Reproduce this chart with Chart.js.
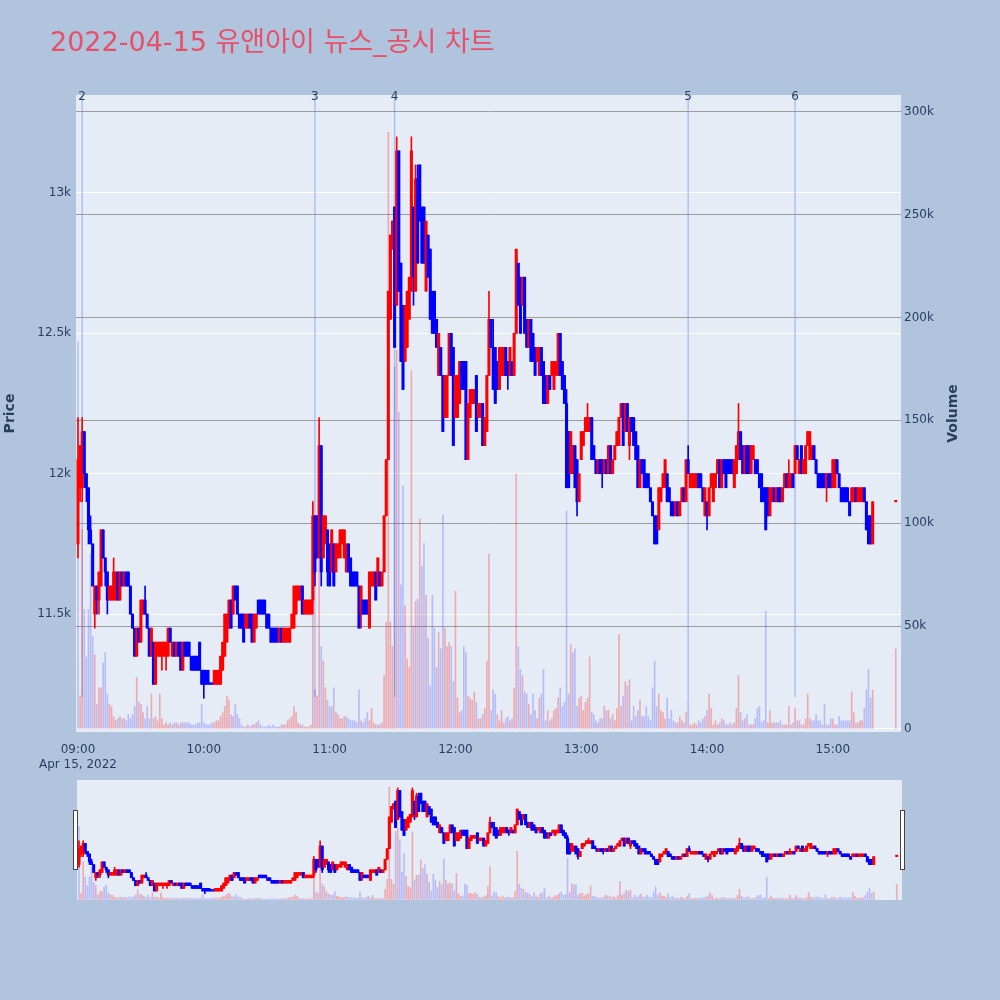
<!DOCTYPE html>
<html>
<head>
<meta charset="utf-8">
<script src="https://cdn.jsdelivr.net/npm/chart.js"></script>
<style>
  html, body { margin: 0; padding: 0; background: #b0c4de; }
  #wrap { position: relative; width: 1000px; height: 1000px; }
  #main { position: absolute; left: 0; top: 0; }
  #slider { position: absolute; left: 0; top: 770px; }
</style>
</head>
<body>
<div id="wrap">
  <canvas id="main" width="1000" height="1000"></canvas>
  <canvas id="slider" width="1000" height="140"></canvas>
</div>
<script>
const chartTitle = "2022-04-15 유앤아이 뉴스_공시 차트";
const dateLabel = "Apr 15, 2022";
const closeMinute = 390; // 15:30 closing auction, minutes after 09:00

// one-minute candles from 09:00 to 15:19, then the 15:30 close
const open = [
  11750,11950,11950,12150,12000,11950,11800,11750,11500,11600,
  11550,11600,11800,11700,11650,11550,11550,11550,11550,11650,
  11550,11650,11600,11650,11650,11600,11500,11450,11350,11450,
  11400,11500,11550,11500,11450,11350,11400,11250,11350,11350,
  11350,11350,11350,11350,11450,11350,11400,11350,11400,11400,
  11300,11400,11400,11400,11350,11350,11350,11350,11400,11300,
  11300,11300,11300,11250,11250,11250,11250,11250,11250,11300,
  11350,11400,11450,11550,11500,11600,11600,11500,11500,11500,
  11450,11450,11500,11500,11400,11450,11550,11550,11550,11550,
  11500,11500,11450,11450,11450,11450,11400,11450,11400,11400,
  11400,11400,11450,11450,11500,11550,11550,11600,11500,11500,
  11500,11500,11550,11850,11850,11700,12100,11700,11750,11800,
  11750,11650,11750,11650,11700,11700,11750,11700,11650,11750,
  11700,11650,11650,11650,11600,11500,11550,11550,11550,11450,
  11600,11600,11650,11600,11650,11600,11650,11850,12050,12550,
  12800,12950,12600,13150,12750,12600,12400,12450,12550,12650,
  12950,12650,13050,13100,12950,12950,12650,12850,12800,12650,
  12650,12550,12350,12450,12350,12200,12200,12350,12500,12450,
  12200,12200,12250,12400,12400,12400,12050,12200,12250,12250,
  12350,12200,12200,12250,12100,12150,12350,12550,12450,12450,
  12400,12300,12350,12350,12450,12400,12350,12400,12350,12500,
  12750,12700,12600,12700,12550,12450,12550,12500,12450,12400,
  12350,12450,12400,12350,12250,12350,12350,12300,12350,12350,
  12500,12400,12350,12250,12150,12000,12000,12100,12050,11900,
  12050,12100,12150,12150,12150,12200,12100,12050,12000,12050,
  12050,12000,12050,12000,12100,12000,12050,12100,12100,12200,
  12250,12150,12250,12100,12200,12200,12150,12100,11950,12050,
  12050,12000,12000,11950,11900,11850,11850,11800,11900,11950,
  11950,12000,11950,11900,11900,11850,11900,11850,11900,11950,
  11900,12050,11950,11950,11950,11950,12000,12000,11950,11850,
  11900,11850,11950,11900,11950,12000,12050,11950,12050,12050,
  12050,12050,12050,11950,12000,12050,12150,12100,12000,12100,
  12100,12000,12050,12050,12050,12000,12000,11950,11950,11950,
  11850,11900,11950,11900,11950,11950,11900,11950,12000,11950,
  11950,12000,12000,12100,12000,12100,12000,12000,12100,12050,
  12050,12100,12050,12000,12000,12000,12000,11950,12000,12000,
  11950,11950,12050,12000,11950,11950,11950,11950,11900,11900,
  11900,11950,11900,11900,11900,11950,11900,11850,11850,11750,
  11900
];
const high = [
  12200,12100,12200,12150,12000,11950,11850,11750,11600,11600,
  11650,11800,11800,11700,11650,11600,11600,11700,11650,11650,
  11650,11650,11650,11650,11650,11600,11500,11450,11450,11450,
  11550,11550,11600,11500,11450,11450,11400,11400,11400,11400,
  11400,11400,11400,11450,11450,11400,11400,11400,11400,11400,
  11400,11400,11400,11400,11350,11350,11350,11350,11400,11300,
  11300,11300,11300,11250,11250,11300,11300,11300,11350,11400,
  11500,11500,11550,11550,11600,11600,11600,11500,11500,11500,
  11500,11500,11500,11500,11500,11500,11550,11550,11550,11550,
  11500,11500,11450,11450,11450,11450,11450,11450,11450,11450,
  11450,11450,11500,11600,11600,11600,11600,11600,11550,11550,
  11550,11550,11900,11850,11850,12200,12100,11850,11850,11800,
  11750,11800,11750,11750,11750,11800,11800,11800,11750,11750,
  11700,11650,11650,11650,11600,11600,11550,11550,11550,11650,
  11650,11650,11650,11700,11650,11650,11850,12050,12650,12850,
  12900,12950,13200,13150,12750,12600,12600,12650,12700,13200,
  12950,13100,13100,13100,12950,12950,12900,12850,12800,12650,
  12650,12550,12500,12450,12350,12350,12350,12500,12500,12450,
  12350,12350,12400,12400,12400,12400,12250,12300,12300,12300,
  12350,12250,12250,12250,12200,12350,12650,12550,12550,12450,
  12400,12450,12450,12450,12450,12400,12450,12400,12500,12800,
  12750,12700,12700,12700,12550,12550,12550,12500,12450,12450,
  12450,12450,12400,12350,12350,12350,12400,12400,12400,12500,
  12500,12400,12350,12300,12150,12150,12100,12100,12050,12000,
  12150,12150,12200,12250,12200,12200,12100,12050,12050,12050,
  12050,12050,12050,12100,12100,12050,12100,12150,12200,12250,
  12250,12250,12250,12200,12200,12200,12150,12100,12050,12050,
  12050,12000,12000,11950,11900,11850,11850,11950,11950,12000,
  12050,12000,11950,11900,11900,11900,11900,11900,11950,11950,
  12050,12100,12000,12000,12000,12000,12000,12000,11950,11950,
  11900,11950,12000,12000,12000,12050,12050,12050,12050,12050,
  12050,12050,12050,12050,12100,12250,12150,12100,12100,12100,
  12100,12100,12100,12050,12050,12000,12000,11950,11950,11950,
  11950,11950,11950,11950,11950,11950,11950,12000,12000,12050,
  12000,12000,12100,12100,12050,12100,12050,12100,12150,12150,
  12100,12100,12050,12000,12000,12000,12000,12000,12000,12000,
  12050,12050,12050,12000,11950,11950,11950,11950,11900,11950,
  11950,11950,11950,11950,11950,11950,11900,11850,11850,11900,
  11900
];
const low = [
  11700,11900,11900,11950,11900,11750,11750,11600,11450,11500,
  11500,11600,11700,11600,11500,11550,11550,11550,11550,11550,
  11550,11600,11600,11600,11600,11500,11450,11350,11350,11400,
  11400,11500,11500,11450,11350,11350,11250,11250,11350,11350,
  11300,11350,11300,11350,11400,11350,11350,11350,11350,11300,
  11300,11350,11350,11350,11300,11300,11300,11300,11300,11250,
  11200,11250,11250,11250,11250,11250,11250,11250,11250,11300,
  11350,11400,11450,11450,11500,11550,11500,11450,11450,11400,
  11450,11450,11450,11400,11400,11450,11500,11500,11500,11500,
  11450,11450,11400,11400,11400,11400,11400,11400,11400,11400,
  11400,11400,11450,11450,11500,11550,11550,11500,11500,11500,
  11500,11500,11500,11600,11700,11700,11600,11700,11750,11600,
  11600,11650,11600,11650,11700,11700,11750,11700,11650,11650,
  11600,11600,11600,11600,11450,11450,11500,11500,11500,11450,
  11600,11600,11550,11600,11600,11600,11650,11850,12050,12550,
  12800,12450,12600,12650,12400,12300,12400,12450,12550,12650,
  12600,12650,12750,12900,12750,12750,12650,12700,12550,12500,
  12500,12450,12350,12350,12150,12200,12200,12350,12350,12100,
  12200,12200,12250,12300,12300,12050,12050,12200,12250,12250,
  12150,12200,12200,12100,12100,12150,12350,12450,12300,12250,
  12300,12300,12350,12350,12350,12300,12350,12350,12350,12500,
  12600,12500,12600,12500,12450,12450,12400,12400,12350,12400,
  12350,12350,12250,12250,12250,12300,12350,12300,12350,12350,
  12350,12300,12250,11950,11950,12000,12000,11950,11850,11900,
  12050,12100,12150,12150,12150,12050,12050,12000,12000,12000,
  11950,12000,12000,12000,12000,12000,12050,12100,12100,12200,
  12100,12150,12150,12050,12150,12100,12050,11950,11950,12000,
  11950,11950,11950,11900,11850,11750,11750,11800,11900,11950,
  11950,11900,11900,11850,11850,11850,11850,11850,11900,11900,
  11900,12000,11950,11950,11950,11950,11950,11950,11900,11850,
  11800,11850,11950,11900,11950,12000,11950,11950,12000,11950,
  12000,12000,12000,11950,12000,12050,12050,12000,12000,12000,
  12000,12000,12050,12000,12000,11950,11900,11900,11800,11850,
  11850,11900,11900,11900,11900,11900,11900,11950,11950,11950,
  11950,11950,12000,12050,12000,12000,12000,12000,12100,12050,
  12050,12050,12000,11950,11950,11950,11950,11900,11950,11950,
  11950,11950,12000,11950,11900,11900,11900,11900,11850,11900,
  11900,11900,11900,11900,11900,11900,11800,11750,11750,11750,
  11900
];
const close = [
  12050,12100,12150,12000,11950,11800,11750,11600,11600,11550,
  11650,11800,11700,11650,11550,11600,11600,11650,11650,11550,
  11650,11600,11650,11600,11600,11500,11450,11350,11450,11400,
  11550,11550,11500,11450,11350,11450,11250,11400,11400,11400,
  11400,11400,11400,11450,11400,11400,11350,11400,11350,11300,
  11400,11350,11350,11350,11300,11300,11300,11300,11300,11250,
  11250,11250,11250,11250,11250,11300,11300,11300,11350,11400,
  11500,11500,11550,11450,11600,11550,11500,11450,11450,11400,
  11500,11500,11450,11400,11500,11500,11500,11500,11500,11500,
  11450,11450,11400,11400,11400,11400,11450,11400,11450,11450,
  11450,11450,11500,11600,11600,11600,11600,11500,11550,11550,
  11550,11550,11850,11650,11700,12100,11650,11850,11850,11650,
  11600,11800,11600,11750,11750,11800,11800,11800,11750,11650,
  11600,11600,11600,11600,11450,11600,11500,11500,11500,11650,
  11650,11650,11550,11700,11600,11650,11850,12050,12650,12850,
  12900,12450,13150,12650,12400,12300,12600,12650,12700,13150,
  12700,13050,12750,12900,12750,12750,12900,12700,12550,12500,
  12500,12450,12500,12350,12150,12350,12350,12500,12350,12100,
  12350,12350,12400,12300,12300,12050,12250,12300,12300,12300,
  12150,12250,12250,12100,12200,12350,12550,12450,12300,12250,
  12300,12450,12450,12450,12350,12350,12450,12350,12500,12800,
  12600,12500,12700,12500,12450,12550,12400,12400,12350,12450,
  12450,12350,12250,12250,12350,12300,12400,12400,12400,12500,
  12350,12300,12250,11950,11950,12150,12100,11950,11900,12000,
  12150,12150,12200,12200,12200,12050,12050,12000,12050,12000,
  12000,12050,12000,12100,12000,12050,12100,12150,12200,12250,
  12100,12250,12150,12200,12150,12100,12050,11950,12050,12000,
  11950,11950,11950,11900,11850,11750,11750,11950,11950,12000,
  12050,11900,11900,11850,11850,11900,11850,11900,11950,11900,
  12050,12000,12000,12000,12000,12000,11950,11950,11900,11950,
  11850,11950,12000,12000,12000,12050,11950,12050,12000,11950,
  12000,12000,12000,12050,12100,12150,12050,12000,12100,12000,
  12000,12100,12100,12000,12000,11950,11900,11900,11800,11850,
  11950,11950,11900,11950,11900,11900,11950,12000,11950,12000,
  12000,11950,12100,12050,12050,12000,12050,12100,12150,12150,
  12100,12050,12000,11950,11950,11950,11950,12000,11950,11950,
  12050,12050,12000,11950,11900,11900,11900,11900,11850,11950,
  11950,11900,11950,11950,11950,11900,11800,11750,11750,11900,
  11900
];
const volume = [
  188000,16000,97000,58000,35000,58000,85000,45000,36000,12000,
  20000,20000,32000,37000,17000,12000,11000,6000,4000,5000,
  6000,5000,5000,4000,7000,5000,7000,11000,25000,13000,
  12000,8000,5000,11000,5000,17000,5000,6000,4000,17000,
  5000,2000,3000,2000,3000,2000,3000,3000,2000,3000,
  3000,3000,3000,3000,2000,2000,2000,3000,3000,12000,
  3000,2000,2000,2000,3000,3000,4000,4000,6000,8000,
  11000,16000,14000,7000,6000,12000,7000,5000,2000,1000,
  1000,2000,1000,2000,2000,3000,4000,2000,1000,1000,
  1000,2000,1000,2000,1000,1000,1000,2000,2000,2000,
  4000,5000,6000,11000,8000,3000,2000,2000,1000,1000,
  1000,2000,111000,19000,16000,90000,40000,33000,20000,14000,
  11000,11000,20000,8000,7000,5000,5000,6000,6000,5000,
  4000,4000,4000,3000,19000,4000,3000,5000,8000,4000,
  10000,3000,2000,2000,2000,3000,26000,52000,290000,52000,
  40000,176000,184000,154000,70000,118000,60000,34000,30000,174000,
  50000,62000,63000,102000,79000,90000,65000,44000,21000,65000,
  49000,30000,47000,39000,104000,49000,40000,42000,40000,23000,
  67000,15000,8000,9000,40000,37000,16000,15000,14000,18000,
  13000,5000,5000,7000,10000,33000,85000,9000,19000,17000,
  7000,4000,9000,3000,5000,6000,4000,5000,20000,124000,
  40000,29000,26000,18000,17000,12000,7000,17000,9000,5000,
  15000,17000,29000,4000,9000,4000,5000,9000,10000,15000,
  20000,11000,13000,106000,17000,41000,37000,39000,11000,15000,
  16000,9000,13000,15000,35000,8000,7000,4000,3000,5000,
  5000,11000,9000,9000,5000,7000,4000,10000,46000,11000,
  16000,23000,21000,24000,4000,11000,6000,9000,14000,6000,
  6000,11000,6000,4000,20000,33000,11000,17000,9000,8000,
  5000,15000,5000,9000,4000,3000,3000,6000,4000,3000,
  8000,15000,2000,2000,3000,2000,4000,3000,5000,6000,
  9000,17000,10000,2000,4000,2000,3000,5000,4000,2000,
  2000,3000,2000,3000,10000,26000,8000,4000,5000,7000,
  2000,2000,2000,5000,10000,11000,3000,4000,57000,3000,
  9000,3000,3000,3000,3000,4000,2000,2000,2000,11000,
  2000,3000,10000,4000,4000,2000,2000,5000,17000,5000,
  4000,4000,7000,4000,4000,2000,12000,2000,2000,5000,
  5000,2000,2000,6000,4000,4000,4000,4000,4000,18000,
  8000,3000,3000,4000,4000,10000,19000,29000,15000,19000,
  39000
];

// news / disclosure markers (minutes after 09:00) and their labels
const newsMinutes = [2, 113, 151, 291, 342];
const newsLabels = ["2", "3", "4", "5", "6"];

const hourTicks = [0, 60, 120, 180, 240, 300, 360];
const hourLabels = ["09:00", "10:00", "11:00", "12:00", "13:00", "14:00", "15:00"];
const priceTicks = [11500, 12000, 12500, 13000];
const volumeTicks = [0, 50000, 100000, 150000, 200000, 250000, 300000];

const X_MIN = -0.95, X_MAX = 392.5;
const P_MIN = 11080, P_MAX = 13349;
const V_MIN = -1460, V_MAX = 308070;

Chart.defaults.font.family = '"DejaVu Sans", "Noto Sans CJK KR", sans-serif';
Chart.defaults.font.size = 12;
Chart.defaults.color = "#2a3f5f";

const n = open.length;
const minutes = open.map((_, k) => (k < n - 1 ? k : closeMinute));

const candleUp = [];
for (let k = 0; k < n; k++) {
  if (close[k] !== open[k]) candleUp.push(close[k] > open[k]);
  else candleUp.push(k > 0 ? candleUp[k - 1] : true);
}
const volumeUp = close.map((c, k) => k > 0 && (c > close[k - 1] || (c === close[k - 1] && candleUp[k])));

const UP = "#ff0000", DOWN = "#0000ff";

function candleSets() {
  return [
    {
      yAxisID: "yv", order: 3, grouped: false, barThickness: 1,
      data: minutes.map((m, k) => ({ x: m, y: volume[k] })),
      backgroundColor: volumeUp.map(u => (u ? "rgba(255,0,0,0.28)" : "rgba(0,0,255,0.2)"))
    },
    {
      yAxisID: "y", order: 2, grouped: false, barThickness: 1,
      data: minutes.map((m, k) => ({ x: m, y: [low[k], high[k]] })),
      backgroundColor: candleUp.map(u => (u ? UP : DOWN))
    },
    {
      yAxisID: "y", order: 1, grouped: false, barThickness: 2.4, minBarLength: 1.5,
      data: minutes.map((m, k) => ({ x: m, y: [open[k], close[k]] })),
      backgroundColor: candleUp.map(u => (u ? UP : DOWN))
    }
  ];
}

const mainDecor = {
  id: "mainDecor",
  beforeDraw(chart) {
    const { ctx, chartArea: a } = chart;
    ctx.save();
    ctx.fillStyle = "#b0c4de";
    ctx.fillRect(0, 0, chart.width, chart.height);
    ctx.fillStyle = "#e5ecf6";
    ctx.fillRect(a.left, a.top, a.right - a.left, a.bottom - a.top);
    ctx.restore();
  },
  beforeDatasetsDraw(chart) {
    const { ctx, chartArea: a, scales } = chart;
    const yEnd = a.bottom - 0.055 * (a.bottom - a.top);
    ctx.save();
    ctx.strokeStyle = "rgba(100,140,230,0.45)";
    ctx.lineWidth = 1.5;
    newsMinutes.forEach(m => {
      const x = scales.x.getPixelForValue(m);
      ctx.beginPath();
      ctx.moveTo(x, a.top);
      ctx.lineTo(x, yEnd);
      ctx.stroke();
    });
    ctx.restore();
  },
  afterDraw(chart) {
    const { ctx, chartArea: a, scales } = chart;
    ctx.save();
    // title
    ctx.fillStyle = "#e8506a";
    ctx.font = '27px "DejaVu Sans", "Noto Sans CJK KR", sans-serif';
    ctx.textAlign = "left";
    ctx.textBaseline = "alphabetic";
    ctx.fillText(chartTitle, 50, 51);
    // news labels
    ctx.fillStyle = "#2a3f5f";
    ctx.font = '12px "DejaVu Sans", sans-serif';
    ctx.textAlign = "center";
    ctx.textBaseline = "middle";
    newsMinutes.forEach((m, i) => ctx.fillText(newsLabels[i], scales.x.getPixelForValue(m), a.top + 2));
    // axis titles
    ctx.font = 'bold 14px "DejaVu Sans", sans-serif';
    const midY = (a.top + a.bottom) / 2;
    [["Price", 10], ["Volume", 953]].forEach(([t, x]) => {
      ctx.save();
      ctx.translate(x, midY);
      ctx.rotate(-Math.PI / 2);
      ctx.fillText(t, 0, 0);
      ctx.restore();
    });
    ctx.restore();
  }
};

new Chart(document.getElementById("main"), {
  type: "bar",
  data: { datasets: candleSets() },
  options: {
    responsive: false,
    animation: false,
    events: [],
    layout: { padding: { left: 0, right: 36, top: 95, bottom: 228 } },
    plugins: { legend: { display: false }, tooltip: { enabled: false } },
    scales: {
      x: {
        type: "linear", min: X_MIN, max: X_MAX, offset: false,
        grid: { display: false }, border: { display: false },
        afterBuildTicks: s => { s.ticks = hourTicks.map(v => ({ value: v })); },
        ticks: {
          autoSkip: false, maxRotation: 0, padding: 3,
          callback: v => (v === 0 ? [hourLabels[0], dateLabel] : hourLabels[hourTicks.indexOf(v)])
        },
        afterFit: s => { s.height = 40; }
      },
      y: {
        position: "left", min: P_MIN, max: P_MAX,
        grid: { color: "#ffffff", drawTicks: false }, border: { display: false },
        afterBuildTicks: s => { s.ticks = priceTicks.map(v => ({ value: v })); },
        ticks: { padding: 5, callback: v => v / 1000 + "k" },
        afterFit: s => { s.width = 76; }
      },
      yv: {
        position: "right", min: V_MIN, max: V_MAX,
        grid: { color: c => (c.tick && c.tick.value === 0 ? "#ffffff" : "#9c9c9c"), drawTicks: false },
        border: { display: false },
        afterBuildTicks: s => { s.ticks = volumeTicks.map(v => ({ value: v })); },
        ticks: { padding: 3, callback: v => (v === 0 ? "0" : v / 1000 + "k") },
        afterFit: s => { s.width = 63; }
      }
    }
  },
  plugins: [mainDecor]
});

// range slider underneath: same data, whole session
const sliderDecor = {
  id: "sliderDecor",
  beforeDraw(chart) {
    const { ctx, chartArea: a } = chart;
    ctx.save();
    ctx.fillStyle = "#e5ecf6";
    ctx.fillRect(a.left, a.top, a.right - a.left, a.bottom - a.top);
    ctx.restore();
  },
  afterDraw(chart) {
    const { ctx, chartArea: a } = chart;
    ctx.save();
    ctx.fillStyle = "#ffffff";
    ctx.strokeStyle = "#444444";
    ctx.lineWidth = 1;
    [a.left - 3.5, a.right - 1.5].forEach(x => {
      ctx.fillRect(x, 40.5, 4, 59);
      ctx.strokeRect(x, 40.5, 4, 59);
    });
    ctx.restore();
  }
};

new Chart(document.getElementById("slider"), {
  type: "bar",
  data: { datasets: candleSets() },
  options: {
    responsive: false,
    animation: false,
    events: [],
    layout: { padding: { left: 77, right: 98, top: 10, bottom: 10 } },
    plugins: { legend: { display: false }, tooltip: { enabled: false } },
    scales: {
      x: { type: "linear", min: X_MIN, max: X_MAX, offset: false, display: false },
      y: { min: P_MIN, max: P_MAX, display: false },
      yv: { min: V_MIN, max: V_MAX, display: false }
    }
  },
  plugins: [sliderDecor]
});
</script>
</body>
</html>
